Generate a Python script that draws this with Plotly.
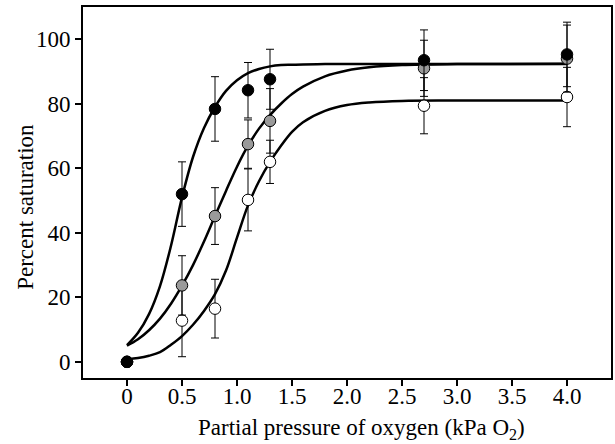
import plotly.graph_objects as go

# ---- data points ----
x_pts = [0, 0.5, 0.8, 1.1, 1.3, 2.7, 4.0]
black_y = [0, 52.0, 78.4, 84.2, 87.6, 93.5, 95.3]
black_err = [0, 10.0, 10.0, 8.6, 9.3, 9.4, 10.0]
gray_y = [0, 23.7, 45.2, 67.5, 74.7, 91.0, 94.0]
gray_err = [0, 9.2, 8.8, 7.5, 10.0, 8.7, 10.4]
white_y = [0, 12.8, 16.5, 50.2, 62.0, 79.4, 82.1]
white_err = [0, 11.2, 9.1, 9.6, 6.7, 8.7, 9.2]

# ---- fitted curves ----
curve_x = [0, 0.1, 0.2, 0.3, 0.4, 0.5, 0.6, 0.7, 0.8, 0.9, 1.0, 1.1, 1.2, 1.3,
           1.4, 1.5, 1.6, 1.8, 2.0, 2.2, 2.5, 3.0, 4.0]
black_curve = [5.2, 9.0, 14.8, 23.5, 36.0, 51.0, 63.5, 72.5, 79.0, 84.0, 87.3,
               89.5, 90.8, 91.6, 92.0, 92.1, 92.2, 92.3, 92.3, 92.3, 92.3, 92.3, 92.3]
gray_curve = [5.0, 7.0, 9.8, 13.4, 18.0, 23.6, 30.0, 37.3, 45.2, 53.0, 60.5,
              67.0, 72.3, 76.5, 80.0, 83.0, 85.3, 88.5, 90.3, 91.3, 92.0, 92.3, 92.4]
white_curve = [0.8, 1.2, 1.9, 3.0, 5.3, 8.0, 11.5, 15.8, 21.0, 28.3, 38.5,
               48.5, 56.0, 62.0, 67.0, 71.3, 74.3, 77.8, 79.6, 80.4, 80.9, 81.0, 81.0]

x_tickvals = [0, 0.5, 1.0, 1.5, 2.0, 2.5, 3.0, 3.5, 4.0]
x_ticktext = ["0", "0.5", "1.0", "1.5", "2.0", "2.5", "3.0", "3.5", "4.0"]
y_tickvals = [0, 20, 40, 60, 80, 100]

FONT = "Liberation Serif"

fig = go.Figure()
for cy in [black_curve, gray_curve, white_curve]:
    fig.add_trace(go.Scatter(x=curve_x, y=cy, mode="lines", line_shape="spline",
                             line=dict(color="black", width=2.5), hoverinfo="skip",
                             showlegend=False))

for ys, es, fill in [(white_y, white_err, "white"), (gray_y, gray_err, "#9a9a9a"),
                     (black_y, black_err, "black")]:
    fig.add_trace(go.Scatter(
        x=x_pts, y=ys, mode="markers",
        marker=dict(size=11.5, color=fill, line=dict(color="black", width=1)),
        error_y=dict(type="data", array=es, visible=True, color="black",
                     thickness=1, width=4),
        showlegend=False))

axis_common = dict(showline=True, linecolor="black", linewidth=2, mirror=True,
                   ticks="outside", ticklen=6, tickwidth=1.5, tickcolor="black",
                   showgrid=False, zeroline=False,
                   tickfont=dict(family=FONT, size=23, color="black"))

fig.update_layout(
    width=615, height=444,
    margin=dict(l=83, r=2, t=7, b=66),
    plot_bgcolor="white", paper_bgcolor="white",
    font=dict(family=FONT, color="black"),
    xaxis=dict(range=[-0.4, 4.4], tickmode="array", tickvals=x_tickvals,
               ticktext=x_ticktext, ticklabelstandoff=-10, **axis_common),
    yaxis=dict(range=[-5, 110], tickmode="array", tickvals=y_tickvals,
               **axis_common),
    annotations=[
        dict(text="Partial pressure of oxygen (kPa O<sub>2</sub>)", xref="paper", yref="paper",
             x=0.528, y=-0.1388, xanchor="center", yanchor="middle", showarrow=False,
             font=dict(family=FONT, size=23, color="black")),
        dict(text="Percent saturation", xref="paper", yref="paper", textangle=-90,
             x=-0.1094, y=0.462, xanchor="center", yanchor="middle", showarrow=False,
             font=dict(family=FONT, size=23, color="black")),
    ],
)

fig.write_html("out.html")
